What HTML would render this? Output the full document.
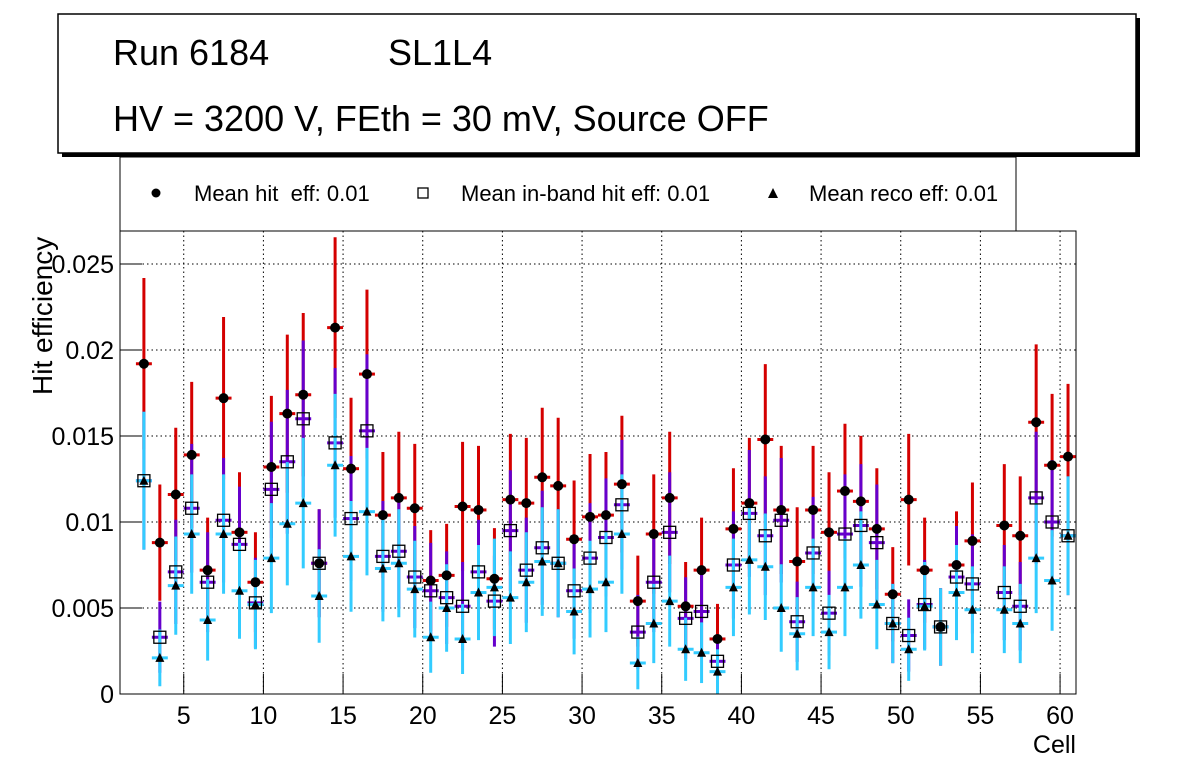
<!DOCTYPE html>
<html><head><meta charset="utf-8">
<style>
html,body{margin:0;padding:0;background:#fff;}
svg{display:block;font-family:"Liberation Sans",sans-serif;}
</style></head>
<body>
<svg id="chart" width="1196" height="772" viewBox="0 0 1196 772">
  <rect x="62" y="18" width="1078" height="139" fill="#000"/>
  <rect x="58" y="14" width="1078" height="139" fill="#fff" stroke="#000" stroke-width="1.5"/>
  <text x="113" y="65" font-size="36">Run 6184</text>
  <text x="388" y="65" font-size="36">SL1L4</text>
  <text x="113" y="131" font-size="36">HV = 3200 V, FEth = 30 mV, Source OFF</text>

  <rect x="120" y="157" width="896" height="74" fill="#fff" stroke="#000" stroke-width="1"/>
  <g>
    <circle cx="156" cy="193" r="4.5" fill="#000"/>
    <text x="194" y="201" font-size="22">Mean hit&#160; eff: 0.01</text>
  </g>
  <g>
    <rect x="418" y="188" width="10" height="10" fill="#fff" stroke="#000" stroke-width="1.3"/>
    <text x="461" y="201" font-size="22">Mean in-band hit eff: 0.01</text>
  </g>
  <g>
    <polygon points="773,188 778,198 768,198" fill="#000"/>
    <text x="809" y="201" font-size="22">Mean reco eff: 0.01</text>
  </g>

  <g id="grid"></g>
  <g id="axes"></g>
  <g id="marks"></g>
  <rect x="120" y="231" width="956" height="463" fill="none" stroke="#000" stroke-width="1"/>
  <text x="52" y="395" font-size="28" transform="rotate(-90 52 395)">Hit efficiency</text>
  <text x="1076" y="753" font-size="25" text-anchor="end">Cell</text>
</svg>
<script>
const cells = [2,3,4,5,6,7,8,9,10,11,12,13,14,15,16,17,18,19,20,21,22,23,24,25,26,27,28,29,30,31,32,33,34,35,36,37,38,39,40,41,42,43,44,45,46,47,48,49,50,51,52,53,54,55,56,57,58,59,60];
const hitEff = [0.0192,0.0088,0.0116,0.0139,0.0072,0.0172,0.0094,0.0065,0.0132,0.0163,0.0174,0.0076,0.0213,0.0131,0.0186,0.0104,0.0114,0.0108,0.0066,0.0069,0.0109,0.0107,0.0067,0.0113,0.0111,0.0126,0.0121,0.0090,0.0103,0.0104,0.0122,0.0054,0.0093,0.0114,0.0051,0.0072,0.0032,0.0096,0.0111,0.0148,0.0107,0.0077,0.0107,0.0094,0.0118,0.0112,0.0096,0.0058,0.0113,0.0072,0.0039,0.0075,0.0089,null,0.0098,0.0092,0.0158,0.0133,0.0138];
const inbandEff = [0.0124,0.0033,0.0071,0.0108,0.0065,0.0101,0.0087,0.0053,0.0119,0.0135,0.0160,0.0076,0.0146,0.0102,0.0153,0.0080,0.0083,0.0068,0.0060,0.0056,0.0051,0.0071,0.0054,0.0095,0.0072,0.0085,0.0076,0.0060,0.0079,0.0091,0.0110,0.0036,0.0065,0.0094,0.0044,0.0048,0.0019,0.0075,0.0105,0.0092,0.0101,0.0042,0.0082,0.0047,0.0093,0.0098,0.0088,0.0041,0.0034,0.0052,0.0039,0.0068,0.0064,null,0.0059,0.0051,0.0114,0.0100,0.0092];
const recoEff = [0.0124,0.0021,0.0063,0.0093,0.0043,0.0093,0.0060,0.0052,0.0079,0.0099,0.0111,0.0057,0.0133,0.0080,0.0106,0.0073,0.0076,0.0061,0.0033,0.0050,0.0032,0.0059,0.0062,0.0056,0.0065,0.0077,0.0076,0.0048,0.0061,0.0065,0.0093,0.0018,0.0041,0.0054,0.0026,0.0024,0.0013,0.0062,0.0078,0.0074,0.0050,0.0035,0.0062,0.0036,0.0062,0.0075,0.0052,0.0041,0.0026,0.0051,0.0039,0.0059,0.0049,null,0.0049,0.0041,0.0079,0.0066,0.0092];
const xTicks = [5,10,15,20,25,30,35,40,45,50,55,60];
const yTicks = [0,0.005,0.01,0.015,0.02,0.025];
const yTickLabels = ["0","0.005","0.01","0.015","0.02","0.025"];

const NS = "http://www.w3.org/2000/svg";
const X0 = 120, X1 = 1076, Y0 = 694, Y1 = 231;
const xMin = 1, xMax = 61, yMin = 0, yMax = 463 / 86 * 0.005;
function xs(v){ return X0 + (v - xMin) / (xMax - xMin) * (X1 - X0); }
function ys(v){ return Y0 - (v - yMin) / (yMax - yMin) * (Y0 - Y1); }
function mk(tag, attrs, parent){
  const e = document.createElementNS(NS, tag);
  for (const k in attrs) e.setAttribute(k, attrs[k]);
  parent.appendChild(e);
  return e;
}
function errOf(v){ return 0.036 * Math.sqrt(v); }

const grid = document.getElementById('grid');
const axes = document.getElementById('axes');
const marks = document.getElementById('marks');

xTicks.forEach((t) => {
  const x = xs(t);
  const g = mk('line', {x1:x, x2:x, y1:Y1, y2:Y0, stroke:'#000', 'stroke-width':1, 'stroke-dasharray':'1.5 3'}, grid);
  
  
  const tk = mk('line', {x1:x, x2:x, y1:Y0, y2:Y0 - 20, stroke:'#000', 'stroke-width':1}, axes);
  
  
  const lb = mk('text', {x:x, y:Y0 + 30, 'font-size':25, 'text-anchor':'middle'}, axes);
  lb.textContent = String(t);
  
  
});
yTicks.forEach((t, i) => {
  const y = ys(t);
  if (t > 0) {
    const g = mk('line', {x1:X0, x2:X1, y1:y, y2:y, stroke:'#000', 'stroke-width':1, 'stroke-dasharray':'1.5 3'}, grid);
    
    
  }
  const tk = mk('line', {x1:X0, x2:X0 + 22, y1:y, y2:y, stroke:'#000', 'stroke-width':1}, axes);
  
  
  const lb = mk('text', {x:X0 - 6, y:y + 9, 'font-size':25, 'text-anchor':'end'}, axes);
  lb.textContent = yTickLabels[i];
  
  
});

function drawErr(series, color, name){
  series.forEach((v, i) => {
    if (v === null) return;
    const cx = xs(cells[i] + 0.5), e = errOf(v);
    const g = mk('g', {}, marks);
    
    
    mk('line', {x1:cx, x2:cx, y1:ys(Math.min(v + e, yMax)), y2:ys(Math.max(v - e, 0)), stroke:color, 'stroke-width':3}, g);
    mk('line', {x1:xs(cells[i]), x2:xs(cells[i] + 1), y1:ys(v), y2:ys(v), stroke:color, 'stroke-width':3}, g);
  });
}
drawErr(hitEff, '#d40000', 'hit-error-bar');
drawErr(inbandEff, '#6600cc', 'inband-error-bar');
drawErr(recoEff, '#33ccff', 'reco-error-bar');

hitEff.forEach((v, i) => {
  if (v === null) return;
  const c = mk('circle', {cx:xs(cells[i] + 0.5), cy:ys(v), r:5, fill:'#000'}, marks);
  
  
});
inbandEff.forEach((v, i) => {
  if (v === null) return;
  const cx = xs(cells[i] + 0.5), cy = ys(v);
  const r = mk('rect', {x:cx - 6, y:cy - 6, width:12, height:12, fill:'none', stroke:'#000', 'stroke-width':1.3}, marks);
  
  
});
recoEff.forEach((v, i) => {
  if (v === null) return;
  const cx = xs(cells[i] + 0.5), cy = ys(v);
  const p = mk('polygon', {points:`${cx},${cy - 5} ${cx + 4.5},${cy + 4} ${cx - 4.5},${cy + 4}`, fill:'#000'}, marks);
  
  
});
</script>
</body></html>
